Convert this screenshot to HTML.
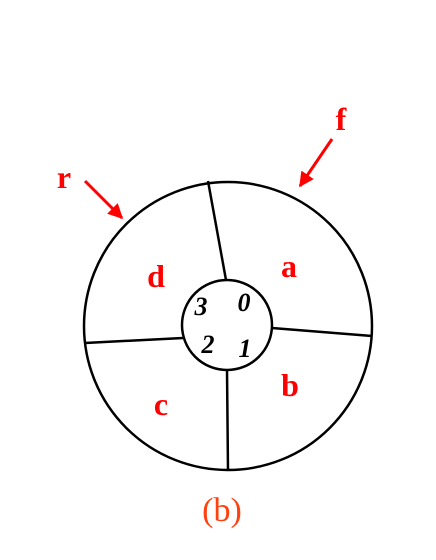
<!DOCTYPE html>
<html><head><meta charset="utf-8"><style>
html,body{margin:0;padding:0;background:#fff;}
svg{display:block;}
</style></head><body>
<svg width="436" height="560" viewBox="0 0 436 560">
<defs>
<marker id="ah" viewBox="0 0 10 10" refX="9" refY="5" markerWidth="5" markerHeight="5" orient="auto">
<path d="M0,0 L10,5 L0,10 z" fill="#ff0000"/>
</marker>
</defs>
<circle cx="228" cy="326" r="144" fill="none" stroke="#000" stroke-width="2.5"/>
<circle cx="227" cy="325" r="45" fill="none" stroke="#000" stroke-width="2.5"/>
<line x1="226" y1="280" x2="208" y2="181" stroke="#000" stroke-width="2.5"/>
<line x1="272" y1="328" x2="372" y2="336" stroke="#000" stroke-width="2.5"/>
<line x1="227" y1="370" x2="228" y2="471" stroke="#000" stroke-width="2.5"/>
<line x1="183" y1="338" x2="85" y2="343" stroke="#000" stroke-width="2.5"/>
<g font-family="'Liberation Serif',serif" font-weight="bold" font-size="32" fill="#ff0000" text-anchor="middle">
<text x="289" y="277">a</text>
<text x="290" y="396">b</text>
<text x="161" y="415">c</text>
<text x="156" y="287">d</text>
<text x="341" y="130">f</text>
<text x="64" y="188">r</text>
</g>
<g font-family="'Liberation Serif',serif" font-weight="bold" font-style="italic" font-size="26" fill="#000" text-anchor="middle">
<text x="201" y="315">3</text>
<text x="244" y="311">0</text>
<text x="208" y="353">2</text>
<text x="245" y="357">1</text>
</g>
<line x1="85" y1="181" x2="122" y2="218" stroke="#ff0000" stroke-width="3" marker-end="url(#ah)"/>
<line x1="332" y1="139" x2="300" y2="186" stroke="#ff0000" stroke-width="3" marker-end="url(#ah)"/>
<text x="222" y="521" font-family="'Liberation Serif',serif" font-size="34" fill="#ff4010" text-anchor="middle">(b)</text>
</svg>
</body></html>
